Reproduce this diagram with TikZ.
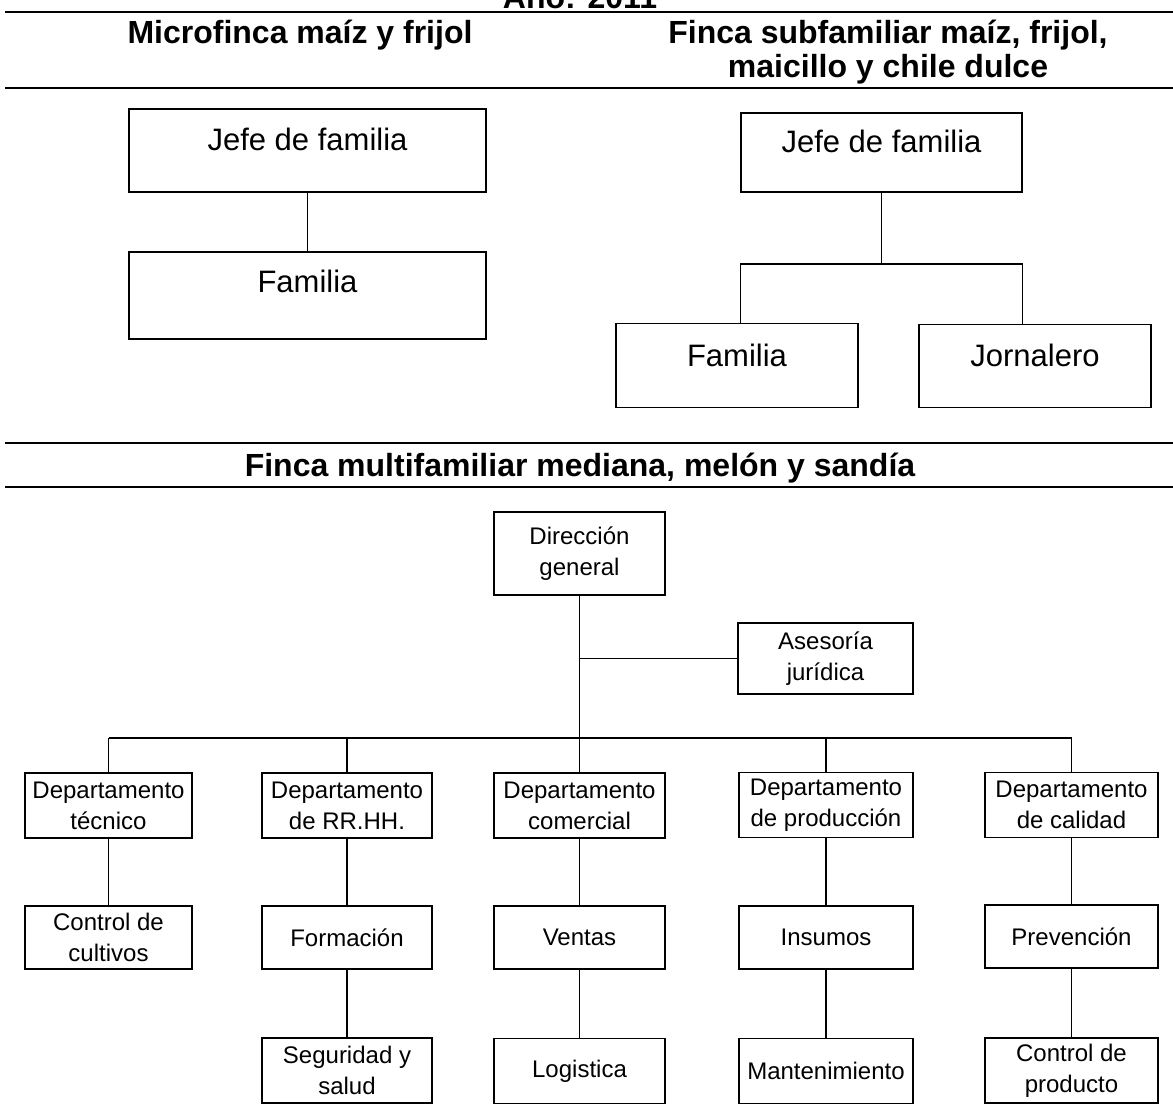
\documentclass[tikz,border=0pt]{standalone}
\usepackage{fontspec}
\setmainfont{Liberation Sans}
\begin{document}
\begin{tikzpicture}[x=1pt,y=-1pt,
  orgbox/.style={draw=black,line width=1.4pt,inner sep=0pt,align=center,
    font=\fontsize{24}{31}\selectfont},
  topbox/.style={draw=black,line width=1.4pt,inner sep=0pt},
  toplbl/.style={anchor=base,inner sep=0pt,font=\fontsize{31}{36}\selectfont},
  head/.style={anchor=base,inner sep=0pt,font=\fontsize{32}{36}\selectfont\bfseries},
  rule/.style={line width=1.8pt},
  conn/.style={line width=1.4pt}]
\useasboundingbox (0,0) rectangle (1173,1106);

% title (cut at top) and rules
\node[head] (year) at (580,8) {Año: 2011};
\coordinate (r1a) at (5,12);   \coordinate (r1b) at (1173,12);
\coordinate (r2a) at (5,88);   \coordinate (r2b) at (1173,88);
\coordinate (r3a) at (5,443);  \coordinate (r3b) at (1173,443);
\coordinate (r4a) at (5,487);  \coordinate (r4b) at (1173,487);
\draw[rule] (r1a) -- (r1b);
\draw[rule] (r2a) -- (r2b);
\draw[rule] (r3a) -- (r3b);
\draw[rule] (r4a) -- (r4b);

\node[head] (h1) at (300,43) {Microfinca maíz y frijol};
\node[head] (h2) at (888,43) {Finca subfamiliar maíz, frijol,};
\node[head] (h3) at (888,77) {maicillo y chile dulce};
\node[head] (h4) at (580,476) {Finca multifamiliar mediana, melón y sandía};

% left top chart
\node[topbox,minimum width=357pt,minimum height=83pt] (jl) at (307.5,150.5) {};
\node[toplbl] (jlt) at (307.5,150) {Jefe de familia};
\node[topbox,minimum width=357pt,minimum height=87pt] (fl) at (307.5,295.5) {};
\node[toplbl] (flt) at (307.5,292) {Familia};
\draw[conn] (jl.south) -- (fl.north);

% right top chart
\node[topbox,minimum width=281pt,minimum height=79pt] (jr) at (881.5,152.5) {};
\node[toplbl] (jrt) at (881.5,152) {Jefe de familia};
\node[topbox,minimum width=242pt,minimum height=84pt] (fr) at (737,365.5) {};
\node[toplbl] (frt) at (737,366) {Familia};
\node[topbox,minimum width=232pt,minimum height=83pt] (jo) at (1035,366) {};
\node[toplbl] (jot) at (1035,366) {Jornalero};
\coordinate (tb) at (881.5,264);
\draw[conn] (jr.south) -- (tb);
\draw[conn] (jr.south west |- tb) -- (jr.south east |- tb);
\draw[conn] (jr.south west |- tb) -- (jr.south west |- fr.north);
\draw[conn] (jr.south east |- tb) -- (jr.south east |- jo.north);

% bottom chart
\node[orgbox,minimum width=171pt,minimum height=83pt] (dir) at (579.5,553.5) {Dirección\\general};
\node[orgbox,minimum width=175pt,minimum height=71pt] (ase) at (825.5,658.5) {Asesoría\\jurídica};
\coordinate (bus) at (0,738);
\draw[conn] (dir.south) -- (dir.south |- bus);
\draw[conn] (ase.west) -- (dir.south |- ase.west);

\tikzset{r1/.style={orgbox,minimum height=65pt},r2/.style={orgbox,minimum height=63pt},r3/.style={orgbox,minimum height=65pt}}
\node[r1,minimum width=167pt] (d1) at (108.5,805.5) {Departamento\\técnico};
\node[r1,minimum width=170pt] (d2) at (347,805.5) {Departamento\\de RR.HH.};
\node[r1,minimum width=171pt] (d3) at (579.5,805.5) {Departamento\\comercial};
\node[r1,minimum width=174pt] (d4) at (826,805) {Departamento\\de producción};
\node[r1,minimum width=173pt] (d5) at (1071.5,805) {Departamento\\de calidad};

\node[r2,minimum width=167pt] (e1) at (108.5,937.5) {Control de\\cultivos};
\node[r2,minimum width=170pt] (e2) at (347,937.5) {Formación};
\node[r2,minimum width=171pt] (e3) at (579.5,937.5) {Ventas};
\node[r2,minimum width=174pt] (e4) at (826,937.5) {Insumos};
\node[r2,minimum width=173pt] (e5) at (1071.5,936.5) {Prevención};

\node[r3,minimum width=170pt] (f2) at (347,1070.5) {Seguridad y\\salud};
\node[r3,minimum width=171pt] (f3) at (579.5,1071) {Logistica};
\node[r3,minimum width=174pt] (f4) at (826,1071) {Mantenimiento};
\node[r3,minimum width=173pt] (f5) at (1071.5,1070.5) {Control de\\producto};

\draw[conn] (d1.north |- bus) -- (d5.north |- bus);
\foreach \i in {1,...,5} {\draw[conn] (d\i.north) -- (d\i.north |- bus);}
\foreach \i in {1,...,5} {\draw[conn] (d\i.south) -- (e\i.north);}
\foreach \i in {2,...,5} {\draw[conn] (e\i.south) -- (f\i.north);}
\end{tikzpicture}
\end{document}
